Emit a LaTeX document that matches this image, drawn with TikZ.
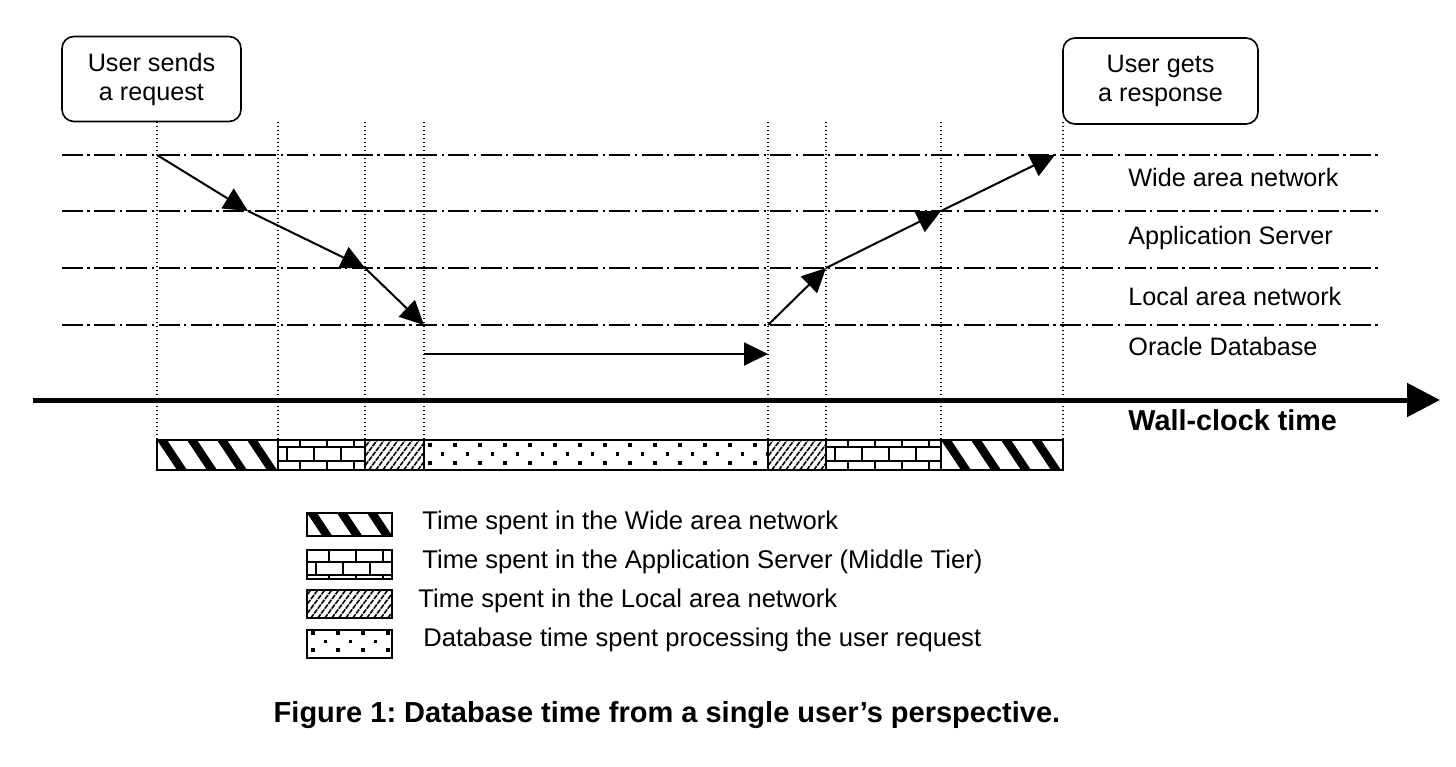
\documentclass[tikz,border=0pt]{standalone}
\usepackage{fontspec}
\setmainfont{Liberation Sans}
\usetikzlibrary{arrows.meta}
\frenchspacing
\newcommand\wanpat[4]{%
  \begin{scope}
    \clip (#1,#3) rectangle (#2,#4);
    \foreach \k in {-1,...,5} \draw[line width=4.2pt] ({#1+5+\k*30-15},{#3-22.5}) -- ++(40,60);
  \end{scope}}
\newcommand\brickpat[6]{%
  \begin{scope}[line width=1pt]
    \clip (#1,#3) rectangle (#2,#4);
    \draw (#1,#5) -- (#2,#5) (#1,#6) -- (#2,#6);
    \foreach \k in {0,...,5} {
      \draw ({#1+22+\k*27},#3) -- ({#1+22+\k*27},#5);
      \draw ({#1+22+\k*27},#6) -- ({#1+22+\k*27},#4);
      \draw ({#1+8.5+\k*27},#5) -- ({#1+8.5+\k*27},#6);
    }
  \end{scope}}
\newcommand\lanpat[4]{%
  \begin{scope}
    \clip (#1,#3) rectangle (#2,#4);
    \foreach \k in {-6,...,14} \draw[line width=0.8pt, dash pattern=on 2.5pt off 0.5pt] ({#1+\k*7},{#4+5}) -- ++(30,-40);
  \end{scope}}
\newcommand\dbdots[6]{%
  \begin{scope}
    \clip (#1,#3) rectangle (#2,#4);
    \foreach \j in {0,...,3} \foreach \k in {0,...,14}
      \fill ({#1+6+\k*25+mod(\j,2)*12.5-1.6},{#5+\j*#6-1.6}) rectangle ++(3.2,3.2);
  \end{scope}}
\begin{document}
\begin{tikzpicture}[x=0.5pt,y=-0.5pt,
  lane/.style={line width=1pt, dash pattern=on 10.5pt off 2.2pt on 1.2pt off 2.2pt},
  vdot/.style={line width=0.7pt, dash pattern=on 0.7pt off 1.3pt},
  flow/.style={line width=1pt, -{Triangle[length=12pt,width=11.5pt]}},
  ubox/.style={draw, line width=0.8pt, rounded corners=6pt, align=center,
    font=\fontsize{12.6pt}{14.5pt}\selectfont},
  lbl/.style={anchor=west, inner sep=0pt, font=\fontsize{12.6pt}{15pt}\selectfont},
  leg/.style={anchor=west, inner sep=0pt, font=\fontsize{12.8pt}{15pt}\selectfont},
  blbl/.style={anchor=west, inner sep=0pt, font=\fontsize{14.4pt}{17pt}\selectfont\bfseries},
  frame/.style={draw, line width=1pt}]
\useasboundingbox (0,0) rectangle (1456,766);

% user boxes
\node[ubox, minimum width=89.5pt, minimum height=42.5pt] (send) at (151.5,79) {User sends\\a request};
\node[ubox, minimum width=97.5pt, minimum height=43pt] (gets) at (1160.5,81) {User gets\\a response};

% time marks
\foreach \x [count=\i] in {157,278,365,424,768,826,941,1063} {
  \coordinate (t\i) at (\x,122);
  \coordinate (b\i) at (\x,440);
  \draw[vdot] (t\i) -- (b\i);
}

% lanes
\foreach \y [count=\i] in {155,211,268,325} {
  \coordinate (ls\i) at (62,\y);
  \coordinate (le\i) at (1380,\y);
  \draw[lane] (ls\i) -- (le\i);
}

% lane labels
\node[lbl] (wan) at (1128,177) {Wide area network};
\node[lbl] (app) at (1128,238) {Application Server};
\node[lbl] (lan) at (1128,296) {Local area network};
\node[lbl] (ora) at (1128,346) {Oracle Database};

% flow
\coordinate (p0) at (157,155);
\coordinate (p1) at (248,211);
\coordinate (p2) at (365,268);
\coordinate (p3) at (424,325);
\coordinate (p4) at (424,354);
\coordinate (p5) at (768,354);
\coordinate (p6) at (768,325);
\coordinate (p7) at (826,268);
\coordinate (p8) at (941,211);
\coordinate (p9) at (1055,155);
\draw[flow] (p0) -- (p1);
\draw[flow] (p1) -- (p2);
\draw[flow] (p2) -- (p3);
\draw[flow] (p4) -- (p5);
\draw[flow] (p6) -- (p7);
\draw[flow] (p7) -- (p8);
\draw[flow] (p8) -- (p9);

% timeline
\coordinate (ts) at (33,400);
\coordinate (te) at (1440,400);
\draw[line width=2.5pt, -{Triangle[length=16.5pt,width=16.5pt]}] (ts) -- (te);
\node[blbl] (wall) at (1128,420) {Wall-clock time};

% bar
\wanpat{157}{278}{440}{470}
\brickpat{278}{365}{440}{470}{447}{461}
\lanpat{365}{424}{440}{470}
\dbdots{424}{768}{440}{470}{445}{9}
\lanpat{768}{826}{440}{470}
\brickpat{826}{941}{440}{470}{447}{461}
\wanpat{941}{1063}{440}{470}
\draw[frame] (157,440) rectangle (1063,470);
\foreach \x in {278,365,424,768,826,941} \draw[line width=1pt] (\x,440) -- (\x,470);

% legend
\wanpat{307}{392}{513}{536}
\draw[frame] (307,513) rectangle (392,536);
\brickpat{307}{392}{550}{579}{562}{575}
\draw[frame] (307,550) rectangle (392,579);
\lanpat{307}{392}{590}{618}
\draw[frame] (307,590) rectangle (392,618);
\dbdots{307}{392}{630}{658}{633}{8.5}
\draw[frame] (307,630) rectangle (392,658);

\node[leg] (lg1) at (422,523) {Time spent in the Wide area network};
\node[leg] (lg2) at (422,562) {Time spent in the Application Server (Middle Tier)};
\node[leg] (lg3) at (418,601) {Time spent in the Local area network};
\node[leg] (lg4) at (423,640) {Database time spent processing the user request};

% caption
\node[font=\fontsize{14.5pt}{17pt}\selectfont\bfseries, inner sep=0pt] (cap) at (667,715)
  {Figure 1: Database time from a single user’s perspective.};
\end{tikzpicture}
\end{document}
